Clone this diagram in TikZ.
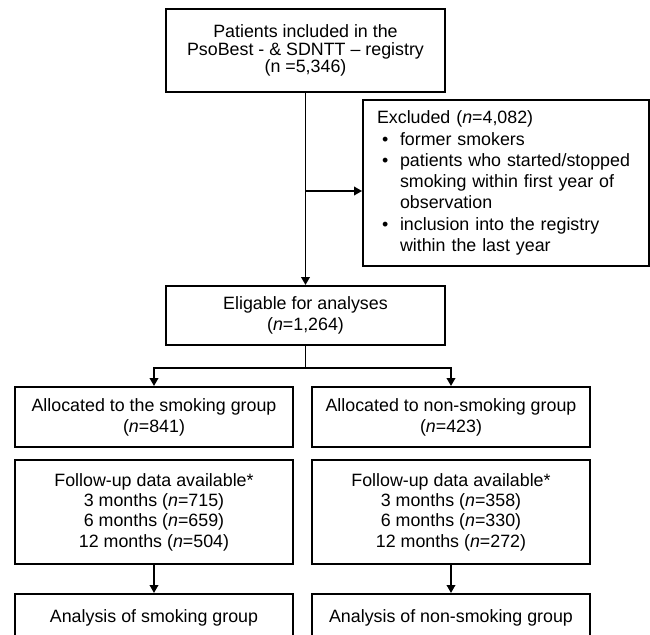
\documentclass[tikz,border=0pt]{standalone}
\usepackage{fontspec}
\setmainfont{Liberation Sans}
\usetikzlibrary{arrows.meta}
\tikzset{
  flowbox/.style={draw, line width=1.1pt, inner sep=0pt, align=center},
  flowline/.style={line width=1.1pt, -{Triangle[length=0.16cm,width=0.17cm]}},
  plainline/.style={line width=1.1pt},
}
\newcommand{\exclitem}[1]{\makebox[0.46cm][l]{\hspace{0.1cm}\textbullet}#1}
\newcommand{\exclcont}[1]{\hspace*{0.46cm}#1}
\begin{document}
\begin{tikzpicture}[x=0.02cm, y=-0.02cm, font=\fontsize{10.15}{11.6}\selectfont]
     \useasboundingbox (0,0) rectangle (650,635);

     \node[flowbox, minimum width=5.58cm, minimum height=1.66cm,
       font=\fontsize{10.15}{10.1}\selectfont] (registry) at (305.5,50.5)
       {Patients included in the\\PsoBest - \& SDNTT -- registry\\(n =5,346)};

     \node[flowbox, align=left, text width=5.16cm, inner xsep=0.28cm,
       minimum height=3.32cm, font=\fontsize{10.15}{12.1}\selectfont] (excl) at (506,183)
       {Excluded (\textit{n}=4,082)\\
        \exclitem{former smokers}\\
        \exclitem{patients who started/stopped}\\
        \exclcont{smoking within first year of}\\
        \exclcont{observation}\\
        \exclitem{inclusion into the registry}\\
        \exclcont{within the last year}};

     \node[flowbox, minimum width=5.58cm, minimum height=1.18cm,
       font=\fontsize{10.15}{11.95}\selectfont] (eligible) at (305.5,315.5)
       {Eligable for analyses\\(\textit{n}=1,264)};

     \node[flowbox, minimum width=5.56cm, minimum height=1.2cm,
       font=\fontsize{10.15}{11.95}\selectfont] (allocsmk) at (154,417)
       {Allocated to the smoking group\\(\textit{n}=841)};
     \node[flowbox, minimum width=5.56cm, minimum height=1.2cm,
       font=\fontsize{10.15}{11.95}\selectfont] (allocnon) at (451,417)
       {Allocated to non-smoking group\\(\textit{n}=423)};

     \node[flowbox, minimum width=5.56cm, minimum height=2.08cm] (followsmk) at (154,512)
       {Follow-up data available*\\3 months (\textit{n}=715)\\6 months (\textit{n}=659)\\12 months (\textit{n}=504)};
     \node[flowbox, minimum width=5.56cm, minimum height=2.08cm] (follownon) at (451,512)
       {Follow-up data available*\\3 months (\textit{n}=358)\\6 months (\textit{n}=330)\\12 months (\textit{n}=272)};

     \node[flowbox, anchor=north, minimum width=5.56cm, minimum height=0.96cm] (analysissmk) at (154,593)
       {Analysis of smoking group};
     \node[flowbox, anchor=north, minimum width=5.56cm, minimum height=0.96cm] (analysisnon) at (451,593)
       {Analysis of non-smoking group};

     % connectors
     \coordinate (exclsplit) at (305.5,191);
     \coordinate (groupsplit) at (305.5,368);
     \draw[flowline] (registry.south) -- (eligible.north);
     \draw[flowline] (exclsplit) -- (exclsplit -| excl.west);
     \draw[plainline] (eligible.south) -- (groupsplit);
     \draw[flowline] (groupsplit) -| (allocsmk.north);
     \draw[flowline] (groupsplit) -| (allocnon.north);
     \draw[flowline] (followsmk.south) -- (analysissmk.north);
     \draw[flowline] (follownon.south) -- (analysisnon.north);
    \end{tikzpicture}
\end{document}
